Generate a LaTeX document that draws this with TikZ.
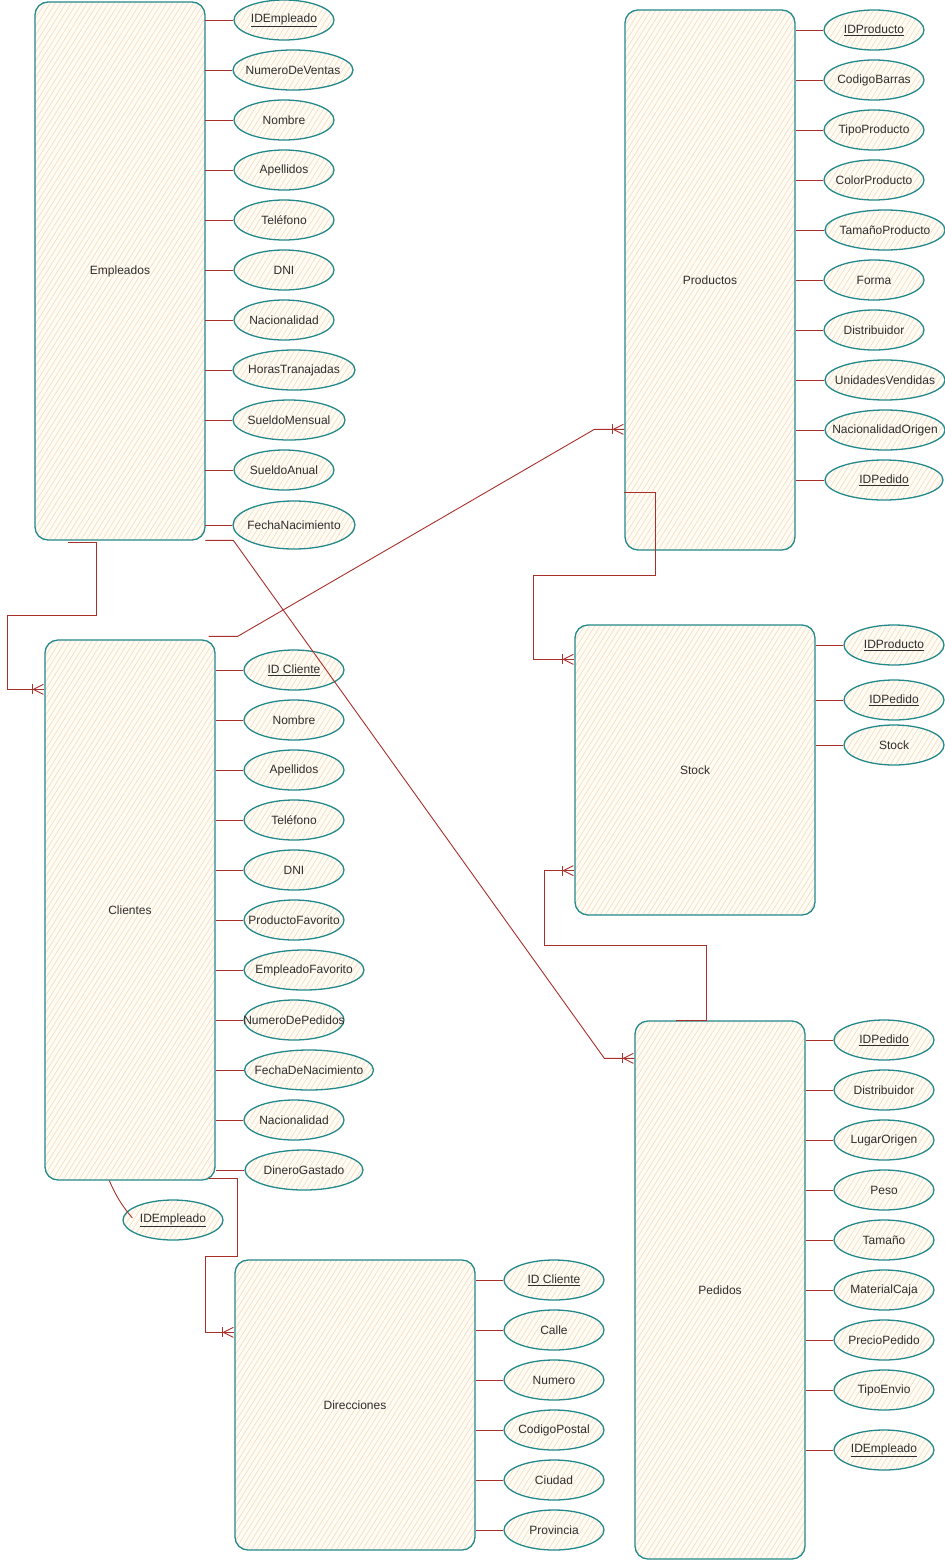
\documentclass[tikz,border=0pt]{standalone}
\usepackage{fontspec}
\setmainfont{Liberation Sans}
\usetikzlibrary{shapes.geometric,calc,patterns.meta}
\definecolor{teal}{HTML}{23898A}
\definecolor{relred}{HTML}{A8302B}
\definecolor{hatch}{HTML}{F4DCBC}
\definecolor{paper}{HTML}{FFFBF5}
\definecolor{txt}{HTML}{2E2E2E}
\tikzset{
  sk/.style={draw=teal, line width=1.3pt,
    preaction={fill=paper},
    pattern={Lines[angle=58,distance=4.5pt,line width=0.6pt]}, pattern color=hatch},
  entity/.style={sk, rectangle, rounded corners=13pt, text=txt, font=\fontsize{12}{14}\selectfont},
  attr/.style={sk, ellipse, minimum width=100pt, minimum height=40pt, inner sep=0pt, text=txt,
    font=\fontsize{12}{14}\selectfont,
    execute at begin node={\hbox to 0pt\bgroup\hss},
    execute at end node={\hss\egroup}},
  rel/.style={draw=relred, line width=0.9pt},
}
\newcommand\crowfoot[1]{%
  \draw[rel] ($(#1)+(-12,-5)$) -- ($(#1)+(-12,5)$);
  \draw[rel] ($(#1)+(-11,0)$) -- ($(#1)+(-1,-5)$);
  \draw[rel] ($(#1)+(-11,0)$) -- ($(#1)+(-1,5)$);}
\begin{document}
\begin{tikzpicture}[x=1pt,y=-1pt]
\useasboundingbox (0,0) rectangle (945,1561);
% entities
\node[entity, minimum width=170pt, minimum height=538pt] (emp) at (120,271) {Empleados};
\node[entity, minimum width=170pt, minimum height=540pt] (prod) at (710,280) {Productos};
\node[entity, minimum width=170pt, minimum height=540pt] (cli) at (130,910) {Clientes};
\node[entity, minimum width=240pt, minimum height=290pt] (stock) at (695,770) {Stock};
\node[entity, minimum width=240pt, minimum height=290pt] (dir) at (355,1405) {Direcciones};
\node[entity, minimum width=170pt, minimum height=538pt] (ped) at (720,1290) {Pedidos};

% Empleados attributes
\node[attr] (e1) at (284,20) {\underline{IDEmpleado}};
\node[attr, minimum width=120pt] (e2) at (293,70) {NumeroDeVentas};
\node[attr] (e3) at (284,120) {Nombre};
\node[attr] (e4) at (284,170) {Apellidos};
\node[attr] (e5) at (284,220) {Teléfono};
\node[attr] (e6) at (284,270) {DNI};
\node[attr] (e7) at (284,320) {Nacionalidad};
\node[attr, minimum width=122pt] (e8) at (294,370) {HorasTranajadas};
\node[attr, minimum width=112pt] (e9) at (289,420) {SueldoMensual};
\node[attr] (e10) at (284,470) {SueldoAnual};
\node[attr, minimum width=122pt, minimum height=48pt] (e11) at (294,525) {FechaNacimiento};
\foreach \a in {e1,e2,e3,e4,e5,e6,e7,e8,e9,e10,e11}
  \draw[rel] (emp.east |- \a.west) -- (\a.west);

% Productos attributes
\node[attr] (p1) at (874,30) {\underline{IDProducto}};
\node[attr] (p2) at (874,80) {CodigoBarras};
\node[attr] (p3) at (874,130) {TipoProducto};
\node[attr] (p4) at (874,180) {ColorProducto};
\node[attr, minimum width=120pt] (p5) at (885,230) {TamañoProducto};
\node[attr] (p6) at (874,280) {Forma};
\node[attr] (p7) at (874,330) {Distribuidor};
\node[attr, minimum width=120pt] (p8) at (885,380) {UnidadesVendidas};
\node[attr, minimum width=120pt] (p9) at (885,430) {NacionalidadOrigen};
\node[attr, minimum width=118pt] (p10) at (884,480) {\underline{IDPedido}};
\foreach \a in {p1,p2,p3,p4,p5,p6,p7,p8,p9,p10}
  \draw[rel] (prod.east |- \a.west) -- (\a.west);

% Stock attributes
\node[attr] (s1) at (894,645) {\underline{IDProducto}};
\node[attr] (s2) at (894,700) {\underline{IDPedido}};
\node[attr] (s3) at (894,745) {Stock};
\foreach \a in {s1,s2,s3}
  \draw[rel] (stock.east |- \a.west) -- (\a.west);

% Clientes attributes
\node[attr] (c1) at (294,670) {\underline{ID Cliente}};
\node[attr] (c2) at (294,720) {Nombre};
\node[attr] (c3) at (294,770) {Apellidos};
\node[attr] (c4) at (294,820) {Teléfono};
\node[attr] (c5) at (294,870) {DNI};
\node[attr] (c6) at (294,920) {ProductoFavorito};
\node[attr, minimum width=120pt] (c7) at (304,970) {EmpleadoFavorito};
\node[attr] (c8) at (294,1020) {NumeroDePedidos};
\node[attr, minimum width=129pt] (c9) at (309,1070) {FechaDeNacimiento};
\node[attr] (c10) at (294,1120) {Nacionalidad};
\node[attr, minimum width=118pt] (c11) at (304,1170) {DineroGastado};
\foreach \a in {c1,c2,c3,c4,c5,c6,c7,c8,c9,c10,c11}
  \draw[rel] (cli.east |- \a.west) -- (\a.west);
\node[attr] (c12) at (173,1220) {\underline{IDEmpleado}};
\draw[rel] ($(cli.south west)+(65,0)$) to[bend right=8] ($(c12.west)+(10,-2)$);

% Direcciones attributes
\node[attr] (d1) at (554,1280) {\underline{ID Cliente}};
\node[attr] (d2) at (554,1330) {Calle};
\node[attr] (d3) at (554,1380) {Numero};
\node[attr] (d4) at (554,1430) {CodigoPostal};
\node[attr] (d5) at (554,1480) {Ciudad};
\node[attr] (d6) at (554,1530) {Provincia};
\foreach \a in {d1,d2,d3,d4,d5,d6}
  \draw[rel] (dir.east |- \a.west) -- (\a.west);

% Pedidos attributes
\node[attr] (o1) at (884,1040) {\underline{IDPedido}};
\node[attr] (o2) at (884,1090) {Distribuidor};
\node[attr] (o3) at (884,1140) {LugarOrigen};
\node[attr] (o4) at (884,1190) {Peso};
\node[attr] (o5) at (884,1240) {Tamaño};
\node[attr] (o6) at (884,1290) {MaterialCaja};
\node[attr] (o7) at (884,1340) {PrecioPedido};
\node[attr] (o8) at (884,1390) {TipoEnvio};
\node[attr] (o9) at (884,1450) {\underline{IDEmpleado}};
\foreach \a in {o1,o2,o3,o4,o5,o6,o7,o8,o9}
  \draw[rel] (ped.east |- \a.west) -- (\a.west);

% relationships
\coordinate (r1e) at ($(cli.north west)+(0,50)$);
\draw[rel] ($(emp.south west)+(33,2)$) -- ++(29,0) -- ++(0,73) -- ++(-89,0) |- (r1e);
\crowfoot{r1e}

\coordinate (r2e) at ($(prod.north west)+(0,420)$);
\draw[rel] ($(cli.north east)+(-7,-3)$) -- ++(29,0) -- ($(r2e)+(-30,0)$) -- (r2e);
\crowfoot{r2e}

\coordinate (r3e) at ($(ped.north west)+(0,38)$);
\draw[rel] (emp.south east) -- ++(28,0) -- ($(r3e)+(-30,0)$) -- (r3e);
\crowfoot{r3e}

\coordinate (r4e) at ($(stock.north west)+(0,35)$);
\draw[rel] ($(prod.north west)+(0,483)$) -- ++(31,0) -- ++(0,83) -- ++(-122,0) |- (r4e);
\crowfoot{r4e}

\coordinate (r5e) at ($(stock.south west)+(0,-45)$);
\draw[rel] ($(ped.north west)+(42,0)$) -- ++(30,0) -- ++(0,-75) -- ++(-162,0) |- (r5e);
\crowfoot{r5e}

\coordinate (r6e) at ($(dir.north west)+(0,73)$);
\draw[rel] ($(cli.south east)+(-7,-2)$) -- ++(29,0) -- ++(0,78) -- ++(-32,0) |- (r6e);
\crowfoot{r6e}
\end{tikzpicture}
\end{document}
